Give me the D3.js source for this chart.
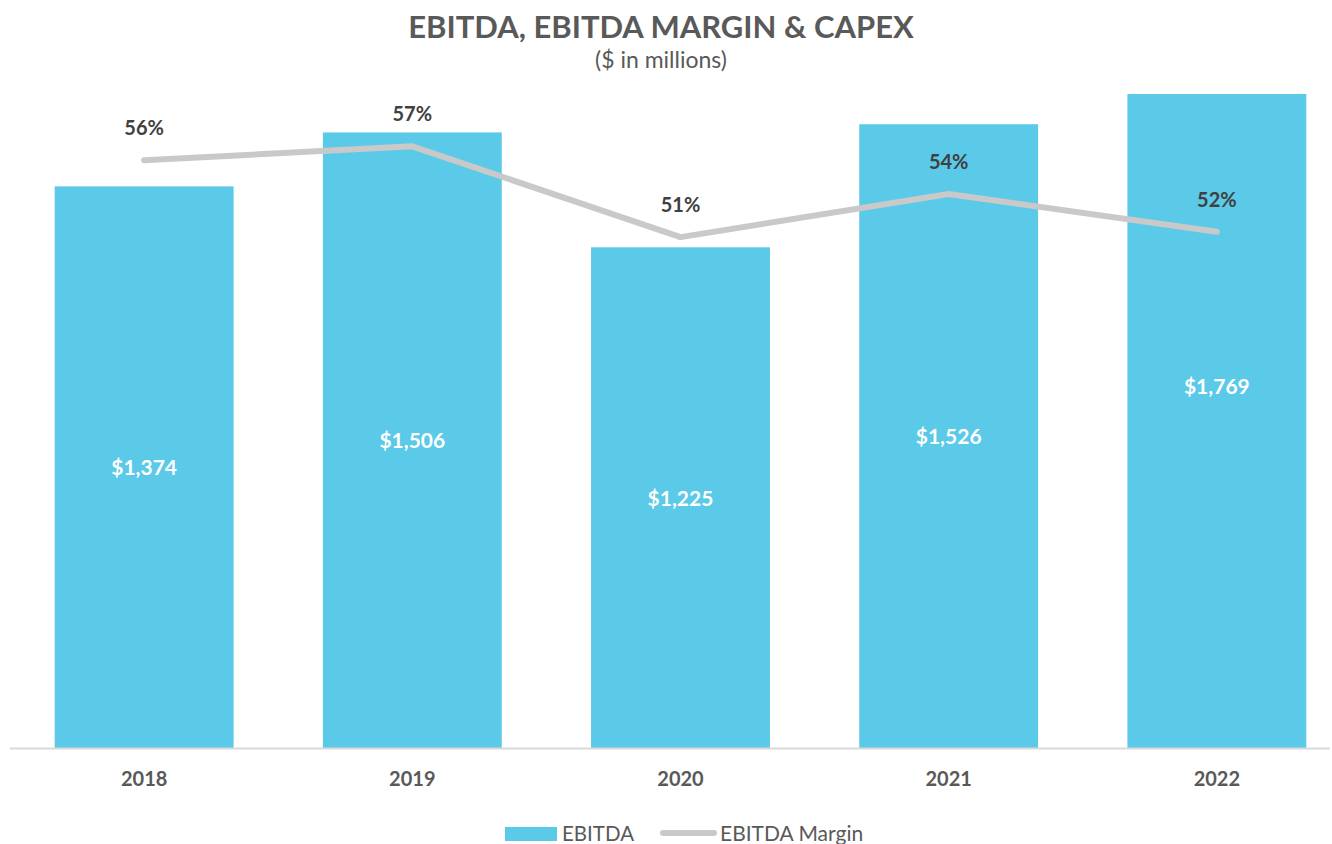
<!DOCTYPE html>
<html>
<head>
<meta charset="utf-8">
<script src="https://cdn.jsdelivr.net/npm/d3@7"></script>
<style>
  body { margin: 0; background: #fff; }
  svg { display: block; font-family: Lato, "Open Sans", sans-serif; }
</style>
</head>
<body>
<div id="chart-container"></div>
<script>
// Chart data
const years = ["2018", "2019", "2020", "2021", "2022"];
const ebitda = [1374, 1506, 1225, 1526, 1769];
const ebitdaMargin = [0.562, 0.571, 0.512, 0.540, 0.5155];
const ebitdaLabels = ["$1,374", "$1,506", "$1,225", "$1,526", "$1,769"];
const marginLabels = ["56%", "57%", "51%", "54%", "52%"];

const width = 1332;
const height = 844;
const plot = { left: 10, right: 1351, top: 94, bottom: 748 };

const svg = d3.select("#chart-container")
  .append("svg")
  .attr("width", width)
  .attr("height", height);

// Scales
const xScale = d3.scaleBand()
  .domain(years)
  .range([plot.left, plot.right])
  .paddingInner(0.333)
  .paddingOuter(0.1667);

const yScale = d3.scaleLinear()
  .domain([0, 1600])
  .range([plot.bottom, plot.top]);
// bars get cut off at the top of the plot area
const yBar = yScale.copy().clamp(true);

const yMargin = d3.scaleLinear()
  .domain([0.18, 0.605])
  .range([plot.bottom, plot.top]);

// Title
svg.append("text")
  .attr("x", 661)
  .attr("y", 38)
  .attr("text-anchor", "middle")
  .attr("font-size", 31)
  .attr("font-weight", "bold")
  .attr("fill", "#595959")
  .text("EBITDA, EBITDA MARGIN & CAPEX");

svg.append("text")
  .attr("x", 661)
  .attr("y", 68)
  .attr("text-anchor", "middle")
  .attr("font-size", 23)
  .attr("fill", "#595959")
  .text("($ in millions)");

// Bars
svg.selectAll(".bar")
  .data(years)
  .enter()
  .append("rect")
  .attr("class", "bar")
  .attr("x", d => xScale(d))
  .attr("width", xScale.bandwidth())
  .attr("y", (d, i) => yBar(ebitda[i]))
  .attr("height", (d, i) => yBar(0) - yBar(ebitda[i]))
  .attr("fill", "#5bc9e8");

// Category axis
const xAxis = d3.axisBottom(xScale).tickSize(0).tickPadding(24);
const xAxisG = svg.append("g")
  .attr("transform", `translate(0, ${plot.bottom})`)
  .call(xAxis);
xAxisG.select(".domain")
  .attr("d", `M${plot.left},0.5H1330`)
  .attr("stroke", "#d9d9d9")
  .attr("stroke-width", 2);
xAxisG.selectAll("text")
  .attr("font-family", "Lato, 'Open Sans', sans-serif")
  .attr("font-size", 20)
  .attr("font-weight", "bold")
  .attr("fill", "#595959");

// Bar value labels (centred on the full, unclipped value)
svg.selectAll(".bar-label")
  .data(years)
  .enter()
  .append("text")
  .attr("class", "bar-label")
  .attr("x", d => xScale(d) + xScale.bandwidth() / 2)
  .attr("y", (d, i) => (yScale(ebitda[i]) + yScale(0)) / 2 + 8)
  .attr("text-anchor", "middle")
  .attr("font-size", 21)
  .attr("font-weight", "bold")
  .attr("fill", "#ffffff")
  .text((d, i) => ebitdaLabels[i]);

// Margin line
const line = d3.line()
  .x((d, i) => xScale(years[i]) + xScale.bandwidth() / 2)
  .y(d => yMargin(d));

svg.append("path")
  .datum(ebitdaMargin)
  .attr("d", line)
  .attr("fill", "none")
  .attr("stroke", "#c9c9c9")
  .attr("stroke-width", 6)
  .attr("stroke-linecap", "round")
  .attr("stroke-linejoin", "round");

svg.selectAll(".margin-label")
  .data(ebitdaMargin)
  .enter()
  .append("text")
  .attr("class", "margin-label")
  .attr("x", (d, i) => xScale(years[i]) + xScale.bandwidth() / 2)
  .attr("y", d => yMargin(d) - 25)
  .attr("text-anchor", "middle")
  .attr("font-size", 20)
  .attr("font-weight", "bold")
  .attr("fill", "#404040")
  .text((d, i) => marginLabels[i]);

// Legend
const legend = svg.append("g");
legend.append("rect")
  .attr("x", 505).attr("y", 827)
  .attr("width", 52).attr("height", 14)
  .attr("fill", "#5bc9e8");
legend.append("text")
  .attr("x", 562).attr("y", 841)
  .attr("font-size", 20.5)
  .attr("fill", "#595959")
  .text("EBITDA");
legend.append("line")
  .attr("x1", 663).attr("x2", 714)
  .attr("y1", 833).attr("y2", 833)
  .attr("stroke", "#c9c9c9")
  .attr("stroke-width", 6)
  .attr("stroke-linecap", "round");
legend.append("text")
  .attr("x", 720).attr("y", 841)
  .attr("font-size", 21)
  .attr("fill", "#595959")
  .text("EBITDA Margin");
</script>
</body>
</html>
